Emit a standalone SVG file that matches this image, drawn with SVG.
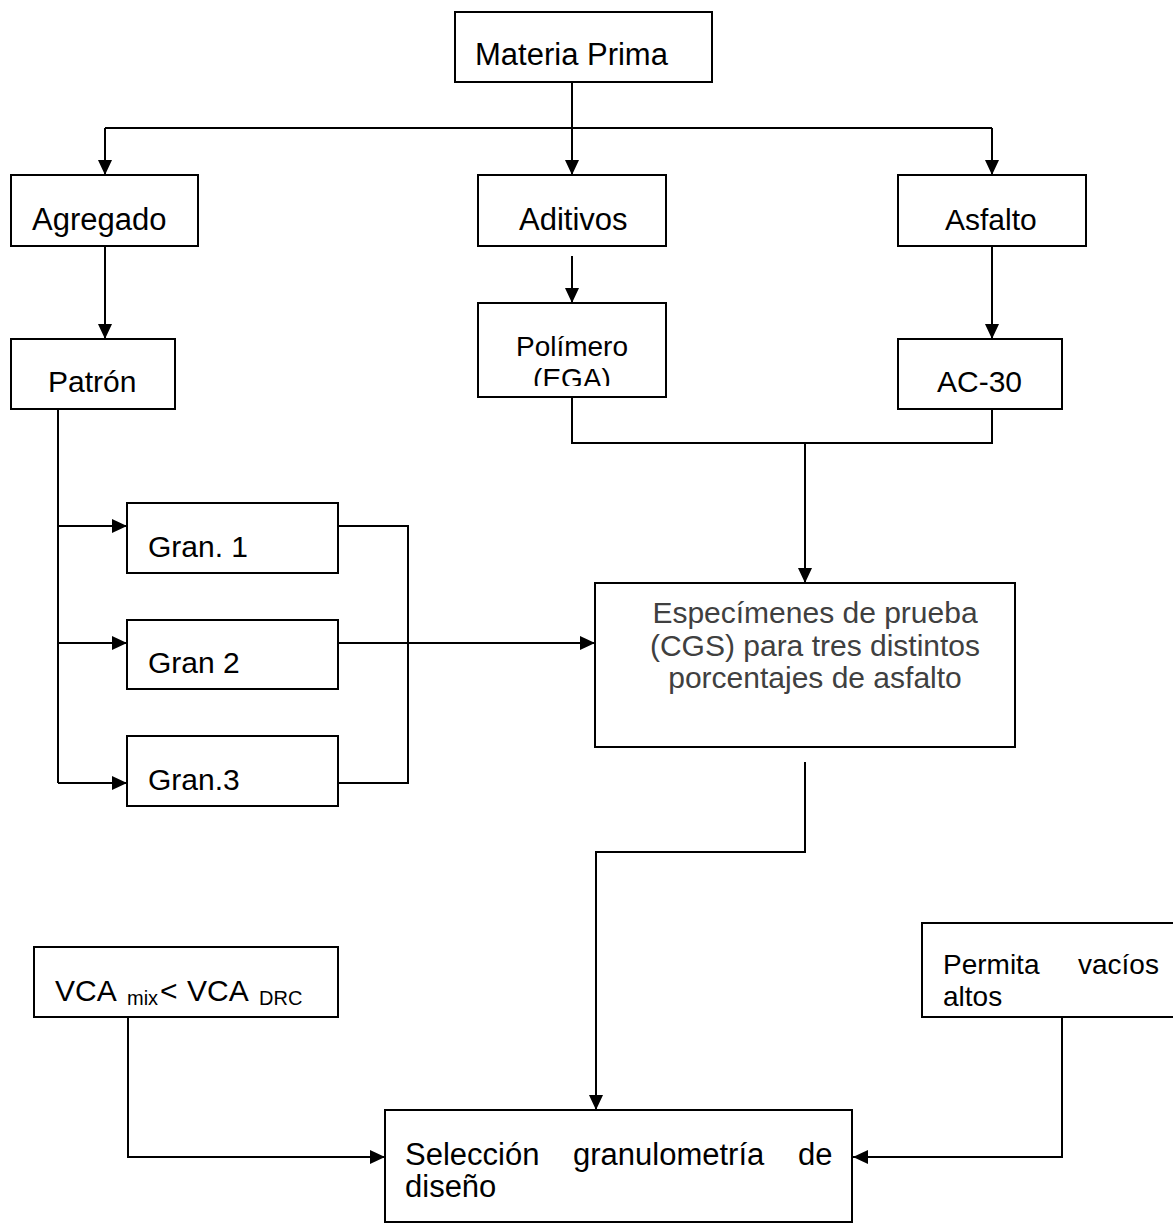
<svg xmlns="http://www.w3.org/2000/svg" width="1173" height="1224" viewBox="0 0 1173 1224">
<style>
.box{fill:#fff;stroke:#000;stroke-width:2}
.t{font-family:"Liberation Sans",Arial,sans-serif;font-size:30px;fill:#000}
.l{font-size:31px}
.s{font-size:28px}
.g{fill:#404040}
.c{fill:none;stroke:#000;stroke-width:2}
</style>
<defs>
<marker id="ah" markerUnits="userSpaceOnUse" markerWidth="15" markerHeight="14" refX="15" refY="7" orient="auto">
<path d="M0,0 L15,7 L0,14 z" fill="#000"/>
</marker>
<clipPath id="clipPol"><rect x="478" y="303" width="188" height="83"/></clipPath>
<clipPath id="clipPer"><rect x="922" y="923" width="260" height="84"/></clipPath>
</defs>
<rect width="1173" height="1224" fill="#fff"/>
<g id="connectors">
<path class="c" d="M572,82 V128 M105,128 H992"/>
<path class="c" d="M105,128 V175" marker-end="url(#ah)"/>
<path class="c" d="M572,128 V175" marker-end="url(#ah)"/>
<path class="c" d="M992,128 V175" marker-end="url(#ah)"/>
<path class="c" d="M105,246 V339" marker-end="url(#ah)"/>
<path class="c" d="M572,256 V303" marker-end="url(#ah)"/>
<path class="c" d="M992,246 V339" marker-end="url(#ah)"/>
<path class="c" d="M572,397 V443 H992 V409"/>
<path class="c" d="M805,443 V583" marker-end="url(#ah)"/>
<path class="c" d="M58,409 V783"/>
<path class="c" d="M58,526 H127" marker-end="url(#ah)"/>
<path class="c" d="M58,643 H127" marker-end="url(#ah)"/>
<path class="c" d="M58,783 H127" marker-end="url(#ah)"/>
<path class="c" d="M338,526 H408 V783 H338"/>
<path class="c" d="M338,643 H595" marker-end="url(#ah)"/>
<path class="c" d="M805,762 V852 H596 V1110" marker-end="url(#ah)"/>
<path class="c" d="M128,1017 V1157 H385" marker-end="url(#ah)"/>
<path class="c" d="M1062,1017 V1157 H853" marker-end="url(#ah)"/>
</g>
<g id="materia-prima"><rect class="box" x="455" y="12" width="257" height="70"/><text class="t l" x="475" y="65">Materia Prima</text></g>
<g id="agregado"><rect class="box" x="11" y="175" width="187" height="71"/><text class="t l" x="32" y="230">Agregado</text></g>
<g id="aditivos"><rect class="box" x="478" y="175" width="188" height="71"/><text class="t l" x="519" y="230">Aditivos</text></g>
<g id="asfalto"><rect class="box" x="898" y="175" width="188" height="71"/><text class="t" x="945" y="230">Asfalto</text></g>
<g id="patron"><rect class="box" x="11" y="339" width="164" height="70"/><text class="t" x="48" y="392">Patrón</text></g>
<g id="polimero"><rect class="box" x="478" y="303" width="188" height="94"/><g clip-path="url(#clipPol)"><text class="t s" x="572" y="356" text-anchor="middle">Polímero</text><text class="t s" x="572" y="388" text-anchor="middle">(EGA)</text></g></g>
<g id="ac30"><rect class="box" x="898" y="339" width="164" height="70"/><text class="t" x="937" y="392">AC-30</text></g>
<g id="gran1"><rect class="box" x="127" y="503" width="211" height="70"/><text class="t" x="148" y="557">Gran. 1</text></g>
<g id="gran2"><rect class="box" x="127" y="620" width="211" height="69"/><text class="t" x="148" y="673">Gran 2</text></g>
<g id="gran3"><rect class="box" x="127" y="736" width="211" height="70"/><text class="t" x="148" y="790">Gran.3</text></g>
<g id="especimenes"><rect class="box" x="595" y="583" width="420" height="164"/>
<text class="t g" x="815" y="623" text-anchor="middle">Especímenes de prueba</text>
<text class="t g" x="815" y="656" text-anchor="middle">(CGS) para tres distintos</text>
<text class="t g" x="815" y="688" text-anchor="middle">porcentajes de asfalto</text></g>
<g id="vca"><rect class="box" x="34" y="947" width="304" height="70"/>
<text class="t"><tspan x="55" y="1001">VCA</tspan><tspan x="127" y="1005" font-size="20">mix</tspan><tspan x="160" y="1001">&lt;</tspan><tspan x="187" y="1001">VCA</tspan><tspan x="259" y="1005" font-size="20">DRC</tspan></text></g>
<g id="permita"><rect class="box" x="922" y="923" width="260" height="94"/><g clip-path="url(#clipPer)">
<text class="t s" x="943" y="974">Permita</text><text class="t s" x="1078" y="974">vacíos</text><text class="t s" x="943" y="1006">altos</text></g></g>
<g id="seleccion"><rect class="box" x="385" y="1110" width="467" height="112"/>
<text class="t l" x="405" y="1165">Selección</text><text class="t l" x="573" y="1165">granulometría</text><text class="t l" x="798" y="1165">de</text>
<text class="t l" x="405" y="1197">diseño</text></g>
</svg>
